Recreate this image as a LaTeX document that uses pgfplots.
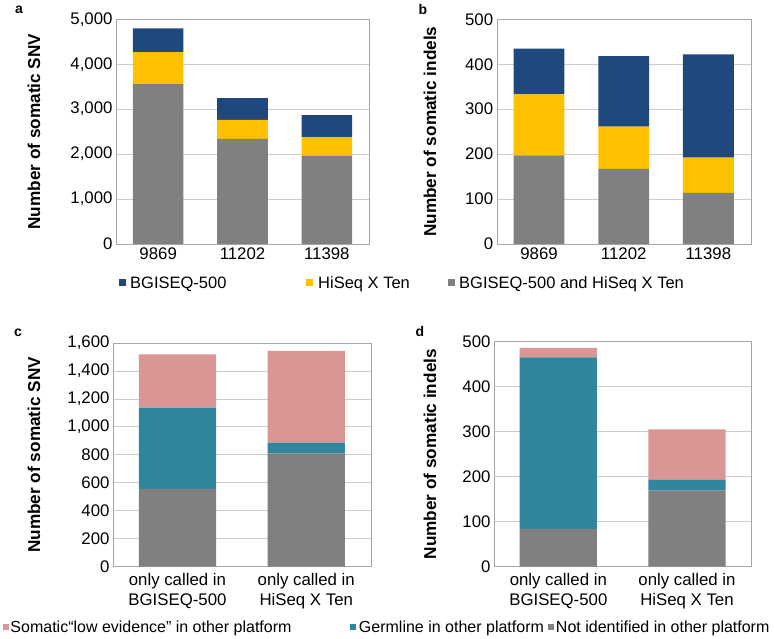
\documentclass[border=0pt]{standalone}
\usepackage{fontspec}
\setmainfont{Liberation Sans}
\usepackage{pgfplots}
\pgfplotsset{compat=1.18}

\definecolor{cNavy}{HTML}{1F497D}
\definecolor{cYellow}{HTML}{FFC000}
\definecolor{cGray}{HTML}{808080}
\definecolor{cPink}{HTML}{D99694}
\definecolor{cTeal}{HTML}{31859C}

\pgfplotsset{
  panel/.style={
    scale only axis,
    anchor=south west,
    ybar stacked,
    bar width=0.6,
    ymin=0,
    axis line style={draw=gray!70},
    ymajorgrids,
    grid style={draw=gray!40, line width=0.8pt},
    major tick length=0pt,
    tick style={draw=none},
    scaled y ticks=false,
    /pgf/number format/1000 sep={,},
    /pgf/number format/assume math mode=true,
    tick label style={font=\fontsize{16.8}{20}\selectfont},
    x tick label style={align=center},
    ylabel style={font=\bfseries\fontsize{17.2}{19}\selectfont, anchor=center},
    every axis plot/.append style={draw=none},
    legend cell align=left,
    reverse legend,
    legend columns=3,
  },
}

\begin{document}
\begin{tikzpicture}
\useasboundingbox (0,0) rectangle (774pt,639pt);

% panel a
\begin{axis}[panel,
  at={(116pt,395pt)}, width=253pt, height=224.7pt,
  xmin=-0.5, xmax=2.5, xtick={0,1,2}, xticklabels={9869,11202,11398},
  ymax=5000, ytick={0,1000,...,5000},
  ylabel={Number of somatic SNV},
  ylabel style={at={(axis description cs:-0.324,0.5)}},
  legend style={at={(axis description cs:0.0119,-0.1736)}, anchor=west,
    draw=none, fill=none, inner sep=0pt,
    font=\fontsize{16.5}{20}\selectfont,
    nodes={inner sep=0pt, anchor=west}},
  legend image code/.code={\path[#1,draw=none] (0pt,-3.5pt) rectangle (7pt,3.5pt);},
]
\addplot[fill=cGray] coordinates {(0,3556) (1,2341) (2,1963)};
\addlegendentry{\hspace{4pt}BGISEQ-500 and HiSeq X Ten}
\addplot[fill=cYellow] coordinates {(0,711) (1,422) (2,415)};
\addlegendentry{\hspace{5pt}\makebox[130pt][l]{HiSeq X Ten}}
\addplot[fill=cNavy] coordinates {(0,533) (1,481) (2,489)};
\addlegendentry{\hspace{4pt}\makebox[176pt][l]{BGISEQ-500}}
\end{axis}

% panel b
\begin{axis}[panel,
  at={(496.7pt,395pt)}, width=254pt, height=224.7pt,
  xmin=-0.5, xmax=2.5, xtick={0,1,2}, xticklabels={9869,11202,11398},
  ymax=500, ytick={0,100,...,500},
  ylabel={Number of somatic indels},
  ylabel style={at={(axis description cs:-0.263,0.5)}},
]
\addplot[fill=cGray] coordinates {(0,197) (1,167) (2,114)};
\addplot[fill=cYellow] coordinates {(0,136) (1,94) (2,78)};
\addplot[fill=cNavy] coordinates {(0,102) (1,157) (2,230)};
\end{axis}

% panel c
\begin{axis}[panel,
  at={(113pt,72.3pt)}, width=257.7pt, height=223.7pt,
  xmin=-0.5, xmax=1.5, xtick={0,1},
  xticklabels={{only called in\\BGISEQ-500},{only called in\\HiSeq X Ten}},
  x tick label style={yshift=-3pt},
  ymax=1600, ytick={0,200,...,1600},
  ylabel={Number of somatic SNV},
  ylabel style={at={(axis description cs:-0.307,0.5)}},
  legend style={at={(axis description cs:-0.4257,-0.2696)}, anchor=west,
    draw=none, fill=none, inner sep=0pt,
    font=\fontsize{16}{20}\selectfont,
    nodes={inner sep=0pt, anchor=west}},
  legend image code/.code={\path[#1,draw=none] (0pt,-3pt) rectangle (6pt,3pt);},
]
\addplot[fill=cGray] coordinates {(0,556) (1,811)};
\addlegendentry{\hspace{2pt}Not identified in other platform}
\addplot[fill=cTeal] coordinates {(0,581) (1,76)};
\addlegendentry{\hspace{2.5pt}\makebox[189pt][l]{Germline in other platform}}
\addplot[fill=cPink] coordinates {(0,382) (1,656)};
\addlegendentry{\hspace{1pt}\makebox[340pt][l]{Somatic“low evidence” in other platform}}
\end{axis}

% panel d
\begin{axis}[panel,
  at={(494pt,72.3pt)}, width=257.3pt, height=225pt,
  xmin=-0.5, xmax=1.5, xtick={0,1},
  xticklabels={{only called in\\BGISEQ-500},{only called in\\HiSeq X Ten}},
  x tick label style={yshift=-3pt},
  ymax=500, ytick={0,100,...,500},
  ylabel={Number of somatic indels},
  ylabel style={at={(axis description cs:-0.249,0.5)}},
]
\addplot[fill=cGray] coordinates {(0,84) (1,169)};
\addplot[fill=cTeal] coordinates {(0,381) (1,24)};
\addplot[fill=cPink] coordinates {(0,21) (1,112)};
\end{axis}

\node[font=\bfseries\fontsize{14}{16}\selectfont] at (19pt,629pt) {a};
\node[font=\bfseries\fontsize{14}{16}\selectfont] at (423pt,629pt) {b};
\node[font=\bfseries\fontsize{14}{16}\selectfont] at (18pt,306pt) {c};
\node[font=\bfseries\fontsize{14}{16}\selectfont] at (420pt,307pt) {d};
\end{tikzpicture}
\end{document}
